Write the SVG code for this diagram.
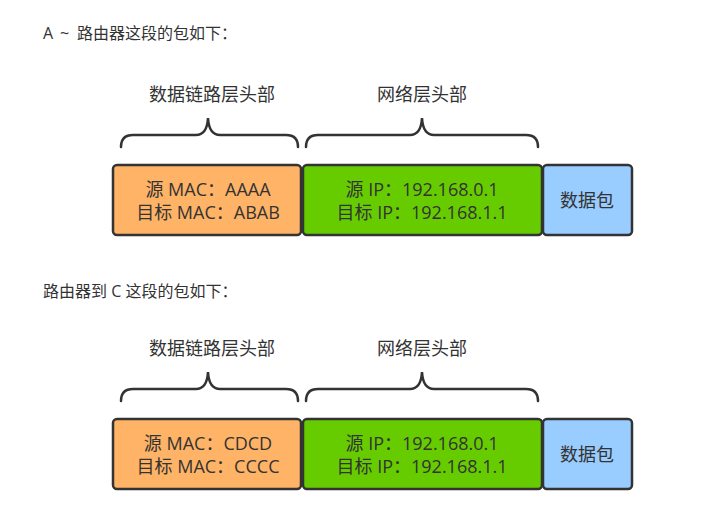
<svg xmlns="http://www.w3.org/2000/svg" width="728" height="519" viewBox="0 0 728 519">
<style>
.t{font-family:"Open Sans","Noto Sans CJK SC",sans-serif;fill:#333}
.title{font-size:16px}
.lbl{font-size:18px;text-anchor:middle}
.bx{font-size:18px;text-anchor:middle}
.box{stroke:#333;stroke-width:2.5}
.brace{fill:none;stroke:#333;stroke-width:2.5;stroke-linecap:round}
</style>
<rect width="728" height="519" fill="#fff"/>
<text class="t title" y="39"><tspan x="43">A</tspan><tspan x="60">~</tspan><tspan x="77">路由器这段的包如下：</tspan></text>
<text class="t title" x="43" y="297">路由器到 C 这段的包如下：</text>
<g id="pkt1">
<g id="braces1">
<path class="brace" d="M121,147 Q121,135 133,135 L196,135 Q207,135 208,118 Q209,135 220,135 L286,135 Q298,135 298,147"/>
<path class="brace" d="M306,147 Q306,135 318,135 L410,135 Q421,135 422,118 Q423,135 434,135 L526,135 Q538,135 538,147"/>
</g>
<text class="t lbl" x="212" y="101">数据链路层头部</text>
<text class="t lbl" x="422" y="101">网络层头部</text>
<g id="mac1"><rect class="box" x="113" y="165" width="188" height="70" rx="4" fill="#FFB366"/>
<text class="t bx" x="208" y="196">源 MAC：AAAA</text><text class="t bx" x="208" y="219">目标 MAC：ABAB</text></g>
<g id="ip1"><rect class="box" x="303" y="165" width="239" height="70" rx="4" fill="#66CC00"/>
<text class="t bx" x="422" y="196">源 IP：192.168.0.1</text><text class="t bx" x="422" y="219">目标 IP：192.168.1.1</text></g>
<g id="data1"><rect class="box" x="543" y="165" width="89" height="70" rx="4" fill="#99CCFF"/>
<text class="t bx" x="587" y="207">数据包</text></g>
</g>
<g id="pkt2" transform="translate(0,254)">
<g id="braces2">
<path class="brace" d="M121,147 Q121,135 133,135 L196,135 Q207,135 208,118 Q209,135 220,135 L286,135 Q298,135 298,147"/>
<path class="brace" d="M306,147 Q306,135 318,135 L410,135 Q421,135 422,118 Q423,135 434,135 L526,135 Q538,135 538,147"/>
</g>
<text class="t lbl" x="212" y="101">数据链路层头部</text>
<text class="t lbl" x="422" y="101">网络层头部</text>
<g id="mac2"><rect class="box" x="113" y="165" width="188" height="70" rx="4" fill="#FFB366"/>
<text class="t bx" x="208" y="196">源 MAC：CDCD</text><text class="t bx" x="208" y="219">目标 MAC：CCCC</text></g>
<g id="ip2"><rect class="box" x="303" y="165" width="239" height="70" rx="4" fill="#66CC00"/>
<text class="t bx" x="422" y="196">源 IP：192.168.0.1</text><text class="t bx" x="422" y="219">目标 IP：192.168.1.1</text></g>
<g id="data2"><rect class="box" x="543" y="165" width="89" height="70" rx="4" fill="#99CCFF"/>
<text class="t bx" x="587" y="207">数据包</text></g>
</g>
</svg>
